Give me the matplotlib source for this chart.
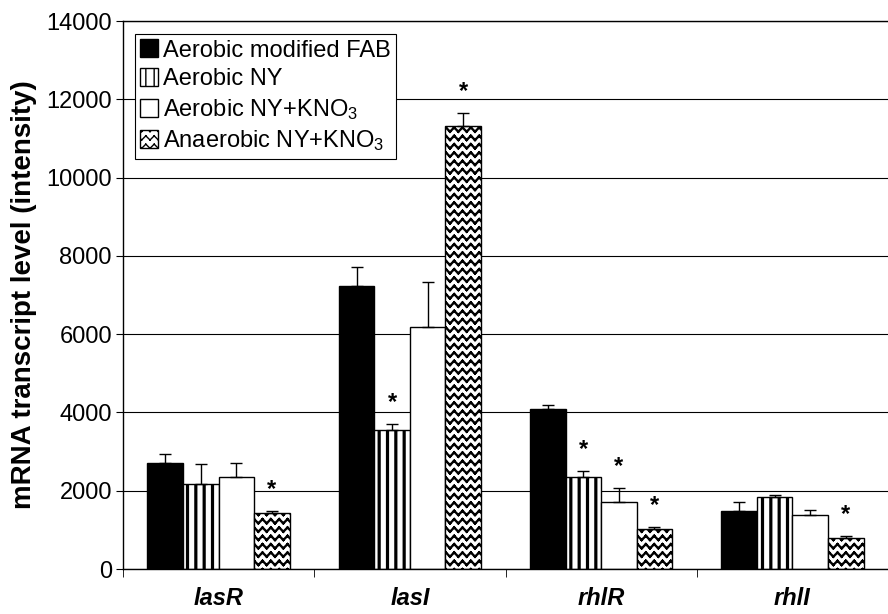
import warnings
import numpy as np
import matplotlib
matplotlib.use("Agg")
import matplotlib.pyplot as plt
import matplotlib.hatch as mhatch
from matplotlib.path import Path

warnings.filterwarnings("ignore")

# =========================
# Data
# =========================
genes = ["lasR", "lasI", "rhlR", "rhlI"]
series_names = ["Aerobic modified FAB", "Aerobic NY",
                r"Aerobic NY+KNO$_3$", r"Anaerobic NY+KNO$_3$"]

fab = [2710, 7220, 4100, 1490]
fab_err = [235, 490, 100, 230]
ny = [2180, 3560, 2360, 1845]
ny_err = [510, 150, 155, 50]
ny_kno3 = [2360, 6170, 1720, 1385]
ny_kno3_err = [355, 1150, 355, 130]
anaer_kno3 = [1435, 11310, 1025, 795]
anaer_kno3_err = [50, 335, 50, 50]

# significance marks (*) per series
fab_sig = [False, False, False, False]
ny_sig = [False, True, True, False]
ny_kno3_sig = [False, False, True, False]
anaer_kno3_sig = [True, True, True, True]

yticks = [0, 2000, 4000, 6000, 8000, 10000, 12000, 14000]


# =========================
# Zigzag hatch ('z'), drawn as separate segments so nothing gets filled
# =========================
class ZigzagHatch(mhatch.HatchPatternBase):
    def __init__(self, hatch, density):
        self.num_rows = hatch.count("z") * density
        self.num_periods = self.num_rows
        self.num_vertices = self.num_rows * self.num_periods * 4

    def set_vertices_and_codes(self, vertices, codes):
        n = self.num_periods
        amp = 0.5 / self.num_rows
        k = 0
        for i in range(self.num_rows):
            y0 = (i + 0.2) / self.num_rows
            for j in range(n):
                xa, xm, xb = j / n, (j + 0.5) / n, (j + 1.0) / n
                for p, q in (((xa, y0), (xm, y0 + amp)), ((xm, y0 + amp), (xb, y0))):
                    vertices[k] = p
                    codes[k] = Path.MOVETO
                    vertices[k + 1] = q
                    codes[k + 1] = Path.LINETO
                    k += 2


mhatch._hatch_types.append(ZigzagHatch)

# =========================
# Plot style
# =========================
plt.rcParams["font.family"] = ["Liberation Sans", "DejaVu Sans"]
plt.rcParams["mathtext.fontset"] = "custom"
plt.rcParams["mathtext.rm"] = "Liberation Sans"
plt.rcParams["mathtext.it"] = "Liberation Sans:italic"

fig = plt.figure(figsize=(8.88, 6.14), dpi=100)
ax = fig.add_axes([123 / 888, 45 / 614, 1 - 123 / 888, 548 / 614])

x = np.arange(len(genes))
w = 0.186
values = [fab, ny, ny_kno3, anaer_kno3]
errs = [fab_err, ny_err, ny_kno3_err, anaer_kno3_err]
sigs = [fab_sig, ny_sig, ny_kno3_sig, anaer_kno3_sig]
styles = [
    dict(color="black", hatch=None, hlw=1.0),
    dict(color="white", hatch="||", hlw=2.3),
    dict(color="white", hatch=None, hlw=1.0),
    dict(color="white", hatch="zz", hlw=1.7),
]

handles = []
for i, (vals, err, st) in enumerate(zip(values, errs, styles)):
    pos = x + (i - 1.5) * w
    with plt.rc_context({"hatch.linewidth": st["hlw"], "hatch.color": "black"}):
        bars = ax.bar(pos, vals, width=w, color=st["color"], edgecolor="black",
                      linewidth=1.0, hatch=st["hatch"], zorder=2)
    ax.errorbar(pos, vals, yerr=[np.zeros(len(vals)), err], fmt="none",
                ecolor="black", elinewidth=1.0, capsize=4, capthick=1.0, zorder=3)
    handles.append(bars)
    for p, v, e, s in zip(pos, vals, err, sigs[i]):
        if s:
            ax.text(p, v + e + 250, "*", ha="center", va="bottom",
                    fontsize=17, fontweight="bold")

ax.set_ylim(0, 14000)
ax.set_xlim(-0.5, -0.5 + (888 - 123) / 193)
ax.set_yticks(yticks)
ax.tick_params(axis="y", labelsize=17, length=5, direction="out", pad=3)
ax.yaxis.grid(True, color="black", linewidth=0.8)
ax.set_axisbelow(True)

ax.set_xticks(x)
ax.set_xticklabels(genes, fontsize=17, fontweight="bold", fontstyle="italic")
ax.tick_params(axis="x", length=0, pad=13)
ax.set_xticks(np.arange(len(genes) + 1) - 0.5, minor=True)
ax.tick_params(axis="x", which="minor", length=6, direction="out")

ax.spines["right"].set_visible(False)
for sp in ["left", "bottom", "top"]:
    ax.spines[sp].set_linewidth(1.0)

ax.set_ylabel("mRNA transcript level (intensity)", fontsize=20,
              fontweight="bold", labelpad=7)

leg = ax.legend(handles, series_names, loc="upper left",
                bbox_to_anchor=(0.0157, 0.976), fontsize=17, frameon=True,
                fancybox=False, edgecolor="black", framealpha=1,
                handlelength=0.75, handleheight=0.8, handletextpad=0.2,
                labelspacing=0.28, borderpad=0.22, borderaxespad=0)
leg.get_frame().set_linewidth(0.8)

fig.savefig("out.png", dpi=100)
